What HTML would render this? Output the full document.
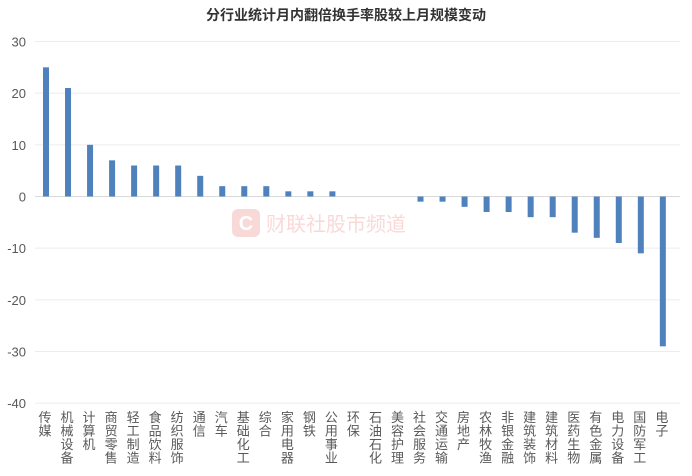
<!DOCTYPE html>
<html><head><meta charset="utf-8"><style>
body{margin:0;background:#fff;}
svg text{font-family:"Liberation Sans","Noto Sans CJK SC",sans-serif;}
</style></head><body>
<svg width="692" height="471" id="c">
<text x="346" y="20" text-anchor="middle" font-size="14" font-weight="bold" fill="#333">分行业统计月内翻倍换手率股较上月规模变动</text>
<g opacity="0.18">
<rect x="232" y="209" width="28" height="28" rx="6" fill="#e03030"/>
<text x="246" y="230" text-anchor="middle" font-size="20" font-weight="bold" fill="#fff">C</text>
<text x="266" y="231" font-size="20" fill="#e03030">财联社股市频道</text>
</g>
<g id="grid"></g><g id="bars"></g><g id="labels"></g>
</svg>
<script>
const categories=["传媒","机械设备","计算机","商贸零售","轻工制造","食品饮料","纺织服饰","通信","汽车","基础化工","综合","家用电器","钢铁","公用事业","环保","石油石化","美容护理","社会服务","交通运输","房地产","农林牧渔","非银金融","建筑装饰","建筑材料","医药生物","有色金属","电力设备","国防军工","电子"];
const values=[25,21,10,7,6,6,6,4,2,2,2,1,1,1,0,0,0,-1,-1,-2,-3,-3,-4,-4,-7,-8,-9,-11,-29];
const ticks=[30,20,10,0,-10,-20,-30,-40];
const NS="http://www.w3.org/2000/svg";
const y=v=>196.5-v*5.167;
const x=i=>46+i*22.03;
const g=document.getElementById('grid'),b=document.getElementById('bars'),l=document.getElementById('labels');
ticks.forEach(t=>{
 const ln=document.createElementNS(NS,'line');
 
 
 ln.setAttribute('x1',35);ln.setAttribute('x2',680);ln.setAttribute('y1',y(t));ln.setAttribute('y2',y(t));
 ln.setAttribute('stroke',t===0?'#d9d9d9':'#ececec');ln.setAttribute('stroke-width',1);
 g.appendChild(ln);
 const tx=document.createElementNS(NS,'text');
 
 
 tx.setAttribute('x',26);tx.setAttribute('y',y(t)+5);tx.setAttribute('text-anchor','end');
 tx.setAttribute('font-size',13);tx.setAttribute('fill','#595959');tx.textContent=t;
 g.appendChild(tx);
});
values.forEach((v,i)=>{
 const r=document.createElementNS(NS,'rect');
 
 
 r.setAttribute('x',x(i)-3);r.setAttribute('width',6);
 r.setAttribute('y',Math.min(y(v),y(0)));r.setAttribute('height',Math.abs(y(v)-y(0)));
 r.setAttribute('fill','#4f81bd');b.appendChild(r);
});
categories.forEach((c,i)=>{
 const t=document.createElementNS(NS,'text');
 
 
 t.setAttribute('font-size',13);t.setAttribute('fill','#595959');t.setAttribute('text-anchor','middle');
 [...c].forEach((ch,k)=>{
  const s=document.createElementNS(NS,'tspan');
  s.setAttribute('x',x(i)-1);s.setAttribute('y',422+k*13.5);s.textContent=ch;t.appendChild(s);
 });
 l.appendChild(t);
});
</script>
</body></html>
